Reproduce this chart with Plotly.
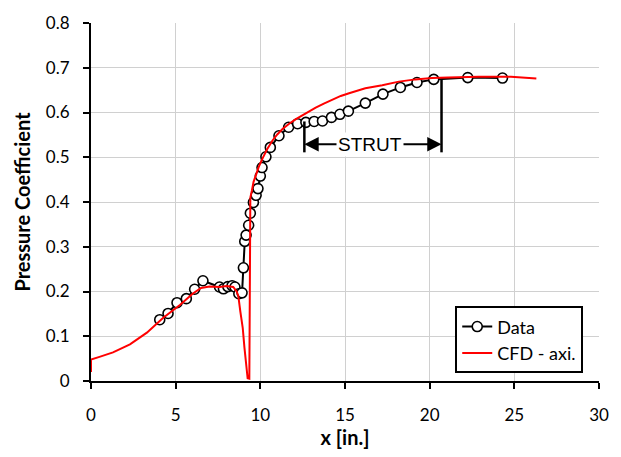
import plotly.graph_objects as go

# Experimental data (circles)
data_x = [4.06, 4.55, 5.08, 5.63, 6.12, 6.61, 7.59, 7.82, 8.08, 8.33, 8.5, 8.73, 8.92,
          9.0, 9.08, 9.16, 9.31, 9.41, 9.59, 9.75, 9.86, 10.0, 10.1, 10.33, 10.59, 11.1,
          11.67, 12.2, 12.69, 13.18, 13.67, 14.2, 14.7, 15.2, 16.2, 17.24, 18.27, 19.25,
          20.24, 22.25, 24.3]
data_y = [0.137, 0.151, 0.175, 0.184, 0.205, 0.224, 0.21, 0.206, 0.211, 0.213, 0.21, 0.195, 0.197,
          0.253, 0.312, 0.326, 0.348, 0.375, 0.399, 0.415, 0.43, 0.458, 0.477, 0.501, 0.522, 0.548,
          0.567, 0.575, 0.578, 0.58, 0.581, 0.589, 0.596, 0.603, 0.621, 0.641, 0.656, 0.667,
          0.674, 0.678, 0.677]

# CFD axisymmetric solution (red line)
cfd_x = [0, 0, 0.5, 1.3, 2.3, 3.3, 4.25, 5.25, 6.0, 6.5, 7.0, 7.6, 8.0, 8.4, 8.6, 8.7,
         8.82, 8.96, 9.06, 9.16, 9.25, 9.35, 9.4, 9.41, 9.5, 9.6, 9.75, 9.9, 10.14, 10.4,
         10.73, 11.0, 11.31, 11.7, 12.1, 12.7, 13.27, 13.75, 14.25, 14.75, 15.24, 15.7,
         16.2, 17.2, 18.18, 19.16, 20.14, 21.1, 22.9, 24.8, 26.3]
cfd_y = [0.02, 0.048, 0.054, 0.064, 0.082, 0.108, 0.141, 0.17, 0.195, 0.208, 0.211, 0.21,
         0.212, 0.21, 0.2, 0.19, 0.155, 0.119, 0.075, 0.031, 0.006, 0.005, 0.2, 0.41, 0.425,
         0.445, 0.461, 0.478, 0.498, 0.518, 0.538, 0.551, 0.563, 0.575, 0.585, 0.599, 0.611,
         0.620, 0.629, 0.637, 0.643, 0.649, 0.654, 0.661, 0.669, 0.674, 0.677, 0.678, 0.68,
         0.68, 0.676]

strut_left = 12.6
strut_right = 20.7
strut_y = 0.529
strut_label = "STRUT"

font_main = "Lato, 'Noto Sans', sans-serif"

fig = go.Figure()
fig.add_trace(go.Scatter(
    x=data_x, y=data_y, mode="lines+markers", name="Data",
    line=dict(color="black", width=2),
    marker=dict(symbol="circle", size=10, color="white", line=dict(color="black", width=1.6)),
))
fig.add_trace(go.Scatter(
    x=cfd_x, y=cfd_y, mode="lines", name="CFD - axi.",
    line=dict(color="#ff0000", width=2),
))

# Strut markers
fig.add_shape(type="line", x0=strut_left, x1=strut_left, y0=0.511, y1=0.58,
              line=dict(color="black", width=2.5))
fig.add_shape(type="line", x0=strut_right, x1=strut_right, y0=0.511, y1=0.673,
              line=dict(color="black", width=2.5))
mid = (strut_left + strut_right) / 2
for tx in (strut_left, strut_right):
    fig.add_annotation(x=tx, y=strut_y, ax=mid, ay=strut_y, xref="x", yref="y",
                       axref="x", ayref="y", text="", showarrow=True,
                       arrowhead=2, arrowsize=1.3, arrowwidth=2.2, arrowcolor="black")
fig.add_annotation(x=mid - 0.2, y=strut_y, xref="x", yref="y", text=strut_label,
                   showarrow=False, bgcolor="white",
                   font=dict(family="'Liberation Sans', Arial, sans-serif", size=19, color="black"))

fig.update_layout(
    width=621, height=457,
    margin=dict(l=91, r=21, t=15, b=76),
    plot_bgcolor="white", paper_bgcolor="white",
    font=dict(family=font_main, size=17, color="black"),
    showlegend=True,
    legend=dict(x=0.717, y=0.115, xanchor="left", yanchor="middle",
                bordercolor="black", borderwidth=2, bgcolor="white",
                font=dict(family=font_main, size=18, color="black"),
                itemwidth=30, tracegroupgap=0),
)
fig.update_xaxes(
    range=[0, 30], tickvals=[0, 5, 10, 15, 20, 25, 30],
    showgrid=True, gridcolor="#d0d0d0", gridwidth=1,
    showline=True, linecolor="black", linewidth=2,
    ticks="outside", ticklen=6, tickwidth=2, tickcolor="black",
    ticklabelstandoff=12,
    zeroline=False,
    title=dict(text="<b>x [in.]</b>", font=dict(family=font_main, size=20), standoff=4),
)
fig.update_yaxes(
    range=[0, 0.8], tickvals=[0, 0.1, 0.2, 0.3, 0.4, 0.5, 0.6, 0.7, 0.8],
    ticktext=["0", "0.1", "0.2", "0.3", "0.4", "0.5", "0.6", "0.7", "0.8"],
    showgrid=True, gridcolor="#d0d0d0", gridwidth=1,
    showline=True, linecolor="black", linewidth=2,
    ticks="outside", ticklen=6, tickwidth=2, tickcolor="black",
    ticklabelstandoff=10,
    zeroline=False,
    title=dict(text="<b>Pressure Coefficient</b>", font=dict(family=font_main, size=20), standoff=10),
)

fig.write_html("out.html")
